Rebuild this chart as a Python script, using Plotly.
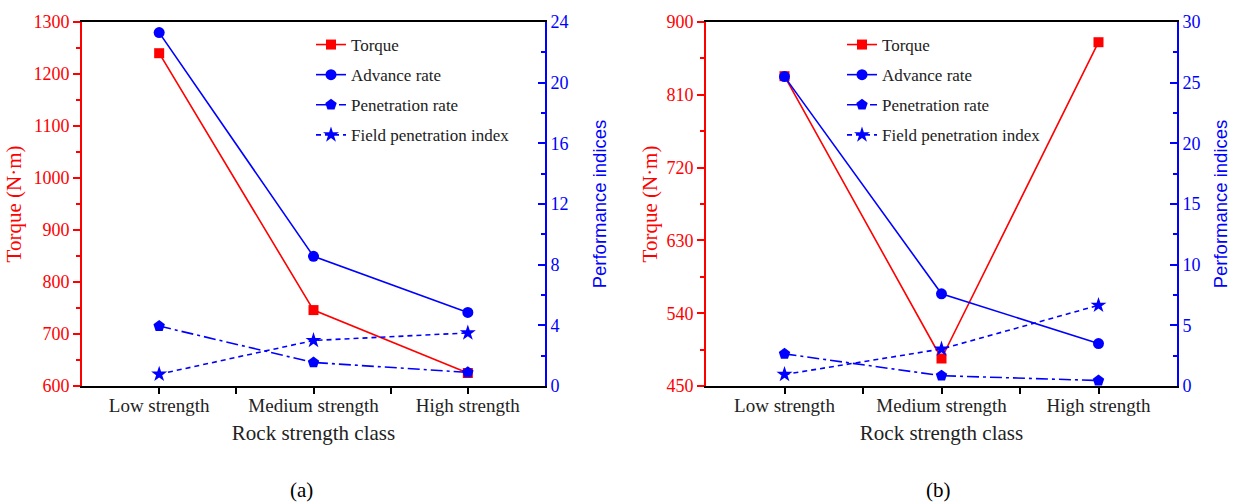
import plotly.graph_objects as go

categories = ["Low strength", "Medium strength", "High strength"]

# Panel (a)
torque_a = [1240, 746, 625]
advance_a = [23.3, 8.55, 4.85]
penetration_a = [3.95, 1.55, 0.9]
fpi_a = [0.78, 3.0, 3.5]

# Panel (b)
torque_b = [833, 484, 875]
advance_b = [25.5, 7.6, 3.5]
penetration_b = [2.65, 0.85, 0.45]
fpi_b = [0.95, 3.05, 6.65]

RED = "#ff0000"
BLUE = "#0000ff"
SERIF = "Liberation Serif"
SANS = "Liberation Sans"

xi = list(range(len(categories)))
fig = go.Figure()


def add_panel(torque, adv, pen, fpi, xa, ya, ya2, leg):
    fig.add_trace(go.Scatter(x=xi, y=torque, name="Torque", xaxis=xa, yaxis=ya, legend=leg,
                             legendgroup=leg + "t",
                             mode="lines+markers", line=dict(color=RED, width=1.6),
                             marker=dict(symbol="square", size=10, color=RED)))
    fig.add_trace(go.Scatter(x=xi, y=adv, name="Advance rate", xaxis=xa, yaxis=ya2, legend=leg,
                             legendgroup=leg + "a",
                             mode="lines+markers", line=dict(color=BLUE, width=1.6),
                             marker=dict(symbol="circle", size=11, color=BLUE)))
    fig.add_trace(go.Scatter(x=xi, y=pen, name="Penetration rate", xaxis=xa, yaxis=ya2, legend=leg,
                             legendgroup=leg + "p",
                             mode="lines+markers", line=dict(color=BLUE, width=1.6, dash="12px,4px,3px,4px"),
                             marker=dict(symbol="pentagon", size=12, color=BLUE)))
    fig.add_trace(go.Scatter(x=xi, y=fpi, name="Field penetration index", xaxis=xa, yaxis=ya2, legend=leg,
                             legendgroup=leg + "f",
                             mode="lines+markers", line=dict(color=BLUE, width=1.6, dash="5px,4px"),
                             marker=dict(symbol="star", size=12, color=BLUE)))


add_panel(torque_a, advance_a, penetration_a, fpi_a, "x", "y", "y2", "legend")
add_panel(torque_b, advance_b, penetration_b, fpi_b, "x2", "y3", "y4", "legend2")

W, H = 1237, 504
ydom = [1 - 386 / H, 1 - 22 / H]


def xaxis_cfg(dom, anchor):
    return dict(domain=dom, range=[-0.5, 2.5], tickvals=[0, 0.5, 1, 1.5, 2], anchor=anchor,
                ticktext=[categories[0], "", categories[1], "", categories[2]],
                showline=True, linecolor="black", linewidth=2, mirror=True,
                ticks="outside", ticklen=6, tickwidth=1.5, tickcolor="black",
                ticklabelstandoff=-5,
                showgrid=False, zeroline=False,
                tickfont=dict(family=SERIF, size=19, color="#222"),
                title=dict(text="Rock strength class", font=dict(family=SERIF, size=21, color="#222"), standoff=11))


def yleft_cfg(rng, dtick, minor, anchor, standoff):
    return dict(domain=ydom, range=rng, dtick=dtick, anchor=anchor,
                showline=True, linecolor=RED, linewidth=2,
                ticks="outside", ticklen=7, tickwidth=1.5, tickcolor=RED,
                minor=dict(dtick=minor, ticks="outside", ticklen=4, tickcolor=RED, tickwidth=1.5),
                showgrid=False, zeroline=False,
                tickfont=dict(family=SERIF, size=18, color=RED),
                title=dict(text="Torque (N·m)", font=dict(family=SERIF, size=21, color=RED), standoff=standoff))


def yright_cfg(rng, dtick, minor, overlay, anchor, standoff):
    return dict(domain=ydom, range=rng, dtick=dtick, overlaying=overlay, side="right", anchor=anchor,
                showline=True, linecolor=BLUE, linewidth=2,
                ticks="inside", ticklen=7, tickwidth=1.5, tickcolor=BLUE,
                minor=dict(dtick=minor, ticks="inside", ticklen=4, tickcolor=BLUE, tickwidth=1.5),
                showgrid=False, zeroline=False,
                tickfont=dict(family=SERIF, size=18, color=BLUE),
                title=dict(text="Performance indices", font=dict(family=SANS, size=18.5, color=BLUE), standoff=standoff))


legend_common = dict(bgcolor="rgba(0,0,0,0)", font=dict(family=SERIF, size=17, color="#222"),
                     xanchor="left", yanchor="top", tracegroupgap=5, itemwidth=30)

fig.update_layout(
    width=W, height=H,
    margin=dict(l=0, r=0, t=0, b=0, autoexpand=False),
    paper_bgcolor="white", plot_bgcolor="white",
    xaxis=xaxis_cfg([82 / W, 545 / W], "y"),
    yaxis=yleft_cfg([600, 1300], 100, 50, "x", 6),
    yaxis2=yright_cfg([0, 24], 4, 2, "y", "x", 25),
    xaxis2=xaxis_cfg([706 / W, 1177 / W], "y3"),
    yaxis3=yleft_cfg([450, 900], 90, 45, "x2", 3),
    yaxis4=yright_cfg([0, 30], 5, 2.5, "y3", "x2", 14),
    legend=legend_common | dict(x=311 / W, y=1 - 27 / H),
    legend2=legend_common | dict(x=842 / W, y=1 - 27 / H),
    annotations=[
        dict(text="(a)", x=301 / W, y=1 - 490 / H, xref="paper", yref="paper", showarrow=False,
             xanchor="center", yanchor="middle",
             font=dict(family=SERIF, size=21, color="black")),
        dict(text="(b)", x=938 / W, y=1 - 490 / H, xref="paper", yref="paper", showarrow=False,
             xanchor="center", yanchor="middle",
             font=dict(family=SERIF, size=21, color="black")),
    ],
)

fig.write_html("out.html")
